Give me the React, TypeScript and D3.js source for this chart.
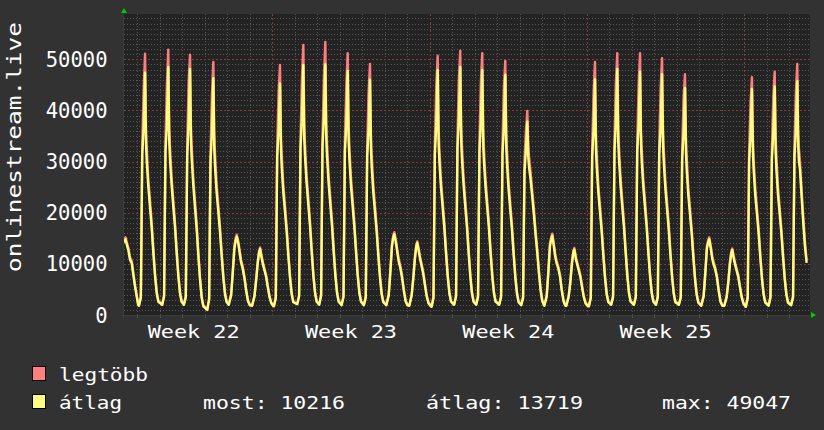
import React from "react";
import * as d3 from "d3";

// ---- labels ----
const yTickValues = [0, 10000, 20000, 30000, 40000, 50000];
const weekLabels = ["Week 22", "Week 23", "Week 24", "Week 25"];
const weekStartHours = [0, 168, 336, 504]; // Monday 00:00 of each labelled week
const majorWeekHours = [168, 336, 504, 672];
const titleText = "onlinestream.live";
const legendNames = ["legtöbb", "átlag"];
const statTexts = ["most: 10216", "átlag: 13719", "max: 49047"];

// ---- data: hours since Monday 00:00 of Week 22 ----
const hours = [
  // Mon W22 (holiday)
  9.6, 11.2, 12.8, 14.2, 16.0, 17.9, 19.6, 21.4, 23.2, 24.6,
  // Tue W22
  25.6, 27.6, 29.1, 30.6, 32.1, 33.1, 33.9, 35.6, 37.4, 39.2, 41.0, 42.8, 44.6, 46.3,
  // Wed W22
  50.4, 52.4, 53.9, 55.4, 56.9, 57.9, 58.7, 60.4, 62.2, 64.0, 65.8, 67.6, 69.4, 71.1,
  // Thu W22
  73.6, 75.6, 77.1, 78.6, 80.1, 81.1, 81.9, 83.6, 85.4, 87.2, 89.0, 90.8, 92.6, 94.3,
  // Fri W22
  98.5, 100.5, 102.0, 103.5, 105.0, 106.0, 106.8, 108.5, 110.3, 112.1, 113.9, 115.7, 117.5, 119.2,
  // Sat W22
  121.5, 124.0, 125.7, 127.5, 128.9, 130.0, 131.8, 133.2, 134.6, 136.4, 138.2, 140.0, 142.0, 144.0,
  // Sun W22
  146.4, 148.9, 150.6, 152.4, 153.8, 154.9, 156.7, 158.1, 159.5, 161.3, 163.1, 164.9, 166.9, 168.9,
  // Mon W23
  169.7, 171.7, 173.2, 174.7, 176.2, 177.2, 178.0, 179.7, 181.5, 183.3, 185.1, 186.9, 188.7, 190.4,
  // Tue W23
  194.6, 196.6, 198.1, 199.6, 201.1, 202.1, 202.9, 204.6, 206.4, 208.2, 210.0, 211.8, 213.6, 215.3,
  // Wed W23
  218.1, 220.1, 221.6, 223.1, 224.6, 225.6, 226.4, 228.1, 229.9, 231.7, 233.5, 235.3, 237.1, 238.8,
  // Thu W23
  242.0, 244.0, 245.5, 247.0, 248.5, 249.5, 250.3, 252.0, 253.8, 255.6, 257.4, 259.2, 261.0, 262.7,
  // Fri W23
  265.8, 267.8, 269.3, 270.8, 272.3, 273.3, 274.1, 275.8, 277.6, 279.4, 281.2, 283.0, 284.8, 286.5,
  // Sat W23
  289.8, 292.3, 294.0, 295.8, 297.2, 298.3, 300.1, 301.5, 302.9, 304.7, 306.5, 308.3, 310.3, 312.3,
  // Sun W23
  314.3, 316.8, 318.5, 320.3, 321.7, 322.8, 324.6, 326.0, 327.4, 329.2, 331.0, 332.8, 334.8, 336.8,
  // Mon W24
  338.1, 340.1, 341.6, 343.1, 344.6, 345.6, 346.4, 348.1, 349.9, 351.7, 353.5, 355.3, 357.1, 358.8,
  // Tue W24
  362.2, 364.2, 365.7, 367.2, 368.7, 369.7, 370.5, 372.2, 374.0, 375.8, 377.6, 379.4, 381.2, 382.9,
  // Wed W24
  385.7, 387.7, 389.2, 390.7, 392.2, 393.2, 394.0, 395.7, 397.5, 399.3, 401.1, 402.9, 404.7, 406.4,
  // Thu W24
  410.3, 412.3, 413.8, 415.3, 416.8, 417.8, 418.6, 420.3, 422.1, 423.9, 425.7, 427.5, 429.3, 431.0,
  // Fri W24
  433.8, 435.8, 437.3, 438.8, 440.3, 441.3, 442.1, 443.8, 445.6, 447.4, 449.2, 451.0, 452.8, 454.5, 456.3,
  // Sat W24
  458.5, 461.0, 462.7, 464.5, 465.9, 467.0, 468.8, 470.2, 471.6, 473.4, 475.2, 477.0, 479.0, 481.0,
  // Sun W24
  482.0, 484.5, 486.2, 488.0, 489.4, 490.5, 492.3, 493.7, 495.1, 496.9, 498.7, 500.5, 502.5, 504.5,
  // Mon W25
  506.1, 508.1, 509.6, 511.1, 512.6, 513.6, 514.4, 516.1, 517.9, 519.7, 521.5, 523.3, 525.1, 526.8,
  // Tue W25
  529.9, 531.9, 533.4, 534.9, 536.4, 537.4, 538.2, 539.9, 541.7, 543.5, 545.3, 547.1, 548.9, 550.6,
  // Wed W25
  554.2, 556.2, 557.7, 559.2, 560.7, 561.7, 562.5, 564.2, 566.0, 567.8, 569.6, 571.4, 573.2, 574.9,
  // Thu W25
  577.7, 579.7, 581.2, 582.7, 584.2, 585.2, 586.0, 587.7, 589.5, 591.3, 593.1, 594.9, 596.7, 598.4,
  // Fri W25
  602.2, 604.2, 605.7, 607.2, 608.7, 609.7, 610.5, 612.2, 614.0, 615.8, 617.6, 619.4, 621.2, 622.9,
  // Sat W25
  626.1, 628.6, 630.3, 632.1, 633.5, 634.6, 636.4, 637.8, 639.2, 641.0, 642.8, 644.6, 646.6, 648.6,
  // Sun W25
  650.7, 653.2, 654.9, 656.7, 658.1, 659.2, 661.0, 662.4, 663.8, 665.6, 667.4, 669.2, 671.2, 673.2,
  // Mon W26
  673.7, 675.7, 677.2, 678.7, 680.2, 681.2, 682.0, 683.7, 685.5, 687.3, 689.1, 690.9, 692.7, 694.4,
  // Tue W26
  698.0, 700.0, 701.5, 703.0, 704.5, 705.5, 706.3, 708.0, 709.8, 711.6, 713.4, 715.2, 717.0, 718.7,
  // Wed W26
  722.1, 724.1, 725.6, 727.1, 728.6, 729.6, 730.4, 731.5, 733.2, 735.0, 736.8, 738.6,
];

const avgUsers = [
  14200, 14800, 13600, 12700, 10800, 10100, 7800, 5500, 3600, 2100,
  1800, 3400, 31500, 36500, 47400, 33500, 30000, 25000, 21000, 17000, 12000, 7500, 4200, 2600,
  2000, 3600, 32000, 37000, 48500, 34000, 30500, 25500, 21300, 17300, 12200, 7600, 4200, 2600,
  2000, 3500, 31000, 37500, 48100, 34000, 30500, 25300, 21000, 16800, 11500, 6800, 3300, 1700,
  1000, 3000, 30000, 35500, 46300, 32500, 29000, 24000, 20200, 16300, 11500, 7200, 4000, 2500,
  2000, 3800, 8000, 13000, 14600, 15300, 13800, 12000, 10300, 9000, 7200, 4800, 2700, 1900,
  1800, 3600, 6500, 10100, 12100, 12900, 11000, 9800, 8800, 7500, 5500, 3600, 2300, 1800,
  1700, 3300, 31000, 36000, 45300, 32500, 29000, 24000, 20200, 16300, 11500, 7200, 4000, 2500,
  2100, 3600, 32500, 38000, 48900, 34500, 31000, 25800, 21600, 17500, 12400, 7700, 4300, 2600,
  2000, 3700, 33000, 38500, 49047, 34500, 31000, 25800, 21600, 17500, 12400, 7700, 4300, 2600,
  1900, 3500, 32000, 37000, 47700, 34000, 30500, 25300, 21200, 17200, 12200, 7600, 4200, 2600,
  1900, 3400, 31000, 36000, 46000, 32500, 29000, 24000, 20200, 16300, 11500, 7200, 4000, 2500,
  1900, 3800, 8200, 13500, 15100, 15800, 14000, 12200, 10500, 9200, 7300, 4900, 2700, 1900,
  1800, 3800, 7000, 11000, 13300, 14100, 12200, 10800, 9600, 8000, 5800, 3700, 2300, 1800,
  1600, 3300, 31500, 37000, 47900, 33500, 30000, 25000, 21000, 17000, 12000, 7500, 4200, 2600,
  2000, 3600, 32500, 38000, 48500, 34000, 30500, 25500, 21300, 17300, 12200, 7600, 4200, 2600,
  2000, 3500, 32000, 37500, 47900, 33500, 30000, 25000, 21000, 17000, 12000, 7500, 4200, 2600,
  2000, 3500, 31500, 36500, 47000, 33000, 29500, 24500, 20600, 16700, 11800, 7300, 4100, 2500,
  1900, 3300, 28000, 32000, 37800, 31000, 29000, 26500, 23000, 19500, 15500, 12000, 8000, 4800, 2700,
  1800, 3600, 8000, 13500, 14800, 15500, 13200, 11300, 10100, 9100, 7500, 4900, 2700, 1800,
  1800, 3600, 6200, 10100, 12100, 12800, 10800, 9800, 8800, 7500, 5500, 3600, 2300, 1800,
  1700, 3300, 31000, 36000, 46100, 32500, 29000, 24000, 20200, 16300, 11500, 7200, 4000, 2500,
  2000, 3500, 32000, 37500, 48100, 34000, 30500, 25300, 21200, 17200, 12200, 7600, 4200, 2600,
  2000, 3500, 32000, 37000, 47600, 33500, 30000, 25000, 21000, 17000, 12000, 7500, 4200, 2600,
  2000, 3500, 31500, 36500, 47100, 33500, 30000, 24800, 20800, 16800, 11800, 7400, 4100, 2500,
  2000, 3400, 30500, 35500, 44400, 32000, 28500, 23500, 19800, 16000, 11300, 7000, 3900, 2400,
  1800, 3600, 7800, 13000, 14200, 14800, 12800, 11000, 9900, 8900, 7300, 4800, 2600, 1800,
  1800, 3500, 6200, 10000, 12000, 12700, 10800, 9700, 8700, 7400, 5400, 3500, 2200, 1700,
  1600, 3300, 30000, 35000, 44200, 32000, 28500, 23500, 19800, 16000, 11300, 7000, 3900, 2400,
  1800, 3400, 30500, 35500, 44700, 32000, 28500, 23500, 19800, 16000, 11300, 7000, 3900, 2400,
  1900, 3400, 31000, 36000, 45700, 33000, 30000, 28400, 23200, 18000, 13400, 10216,
];

const maxUsers = [
  14500, 15200, 14100, 13200, 11300, 10600, 8200, 5900, 3900, 2300,
  1900, 3700, 33500, 44000, 51100, 36500, 32500, 26500, 22300, 18000, 12800, 8000, 4500, 2800,
  2100, 3900, 34000, 45000, 51900, 37000, 33000, 27000, 22600, 18300, 13000, 8100, 4500, 2800,
  2200, 3800, 33000, 45500, 50900, 37000, 33000, 26800, 22300, 17800, 12300, 7300, 3600, 1900,
  1100, 3300, 32000, 43000, 49500, 35500, 31500, 25500, 21500, 17300, 12300, 7700, 4300, 2700,
  2200, 4100, 8500, 13500, 15100, 15700, 14300, 12500, 10800, 9500, 7600, 5100, 2900, 2000,
  1900, 3800, 6900, 10500, 12500, 13200, 11500, 10200, 9200, 7900, 5800, 3800, 2400, 1900,
  1800, 3600, 33000, 43500, 48900, 35500, 31500, 25500, 21500, 17300, 12300, 7700, 4300, 2700,
  2200, 3900, 34500, 46000, 52800, 37500, 33500, 27300, 23000, 18500, 13200, 8200, 4600, 2800,
  2200, 4000, 35000, 46500, 53400, 37500, 33500, 27300, 23000, 18500, 13200, 8200, 4600, 2800,
  2100, 3800, 34000, 45000, 51200, 37000, 33000, 26800, 22500, 18200, 13000, 8100, 4500, 2800,
  2100, 3700, 33000, 43500, 49100, 35500, 31500, 25500, 21500, 17300, 12300, 7700, 4300, 2700,
  2100, 4100, 8700, 14000, 15600, 16200, 14500, 12700, 11000, 9700, 7700, 5200, 2900, 2000,
  1900, 4000, 7400, 11500, 13700, 14400, 12700, 11200, 10000, 8400, 6100, 3900, 2400, 1900,
  1700, 3600, 33500, 45000, 50700, 36500, 32500, 26500, 22300, 18000, 12800, 8000, 4500, 2800,
  2100, 3900, 34500, 46000, 51700, 37000, 33000, 27000, 22600, 18300, 13000, 8100, 4500, 2800,
  2100, 3800, 34000, 45500, 51200, 36500, 32500, 26500, 22300, 18000, 12800, 8000, 4500, 2800,
  2100, 3800, 33500, 44500, 49700, 36000, 32000, 26000, 21900, 17700, 12500, 7800, 4400, 2700,
  2000, 3600, 30000, 36000, 39900, 33500, 31000, 28000, 24300, 20600, 16400, 12700, 8500, 5100, 2900,
  1900, 3900, 8500, 14000, 15300, 15900, 13700, 11800, 10600, 9500, 7900, 5200, 2900, 1900,
  1900, 3800, 6600, 10500, 12500, 13100, 11300, 10200, 9200, 7900, 5800, 3800, 2400, 1900,
  1800, 3600, 33000, 43500, 49500, 35500, 31500, 25500, 21500, 17300, 12300, 7700, 4300, 2700,
  2100, 3800, 34000, 45500, 51200, 37000, 33000, 26800, 22500, 18200, 13000, 8100, 4500, 2800,
  2100, 3800, 34000, 45000, 51200, 36500, 32500, 26500, 22300, 18000, 12800, 8000, 4500, 2800,
  2100, 3800, 33500, 44500, 50200, 36500, 32500, 26300, 22100, 17800, 12600, 7900, 4400, 2700,
  2100, 3700, 32500, 42500, 47100, 35000, 31000, 25000, 21000, 17000, 12000, 7500, 4200, 2600,
  1900, 3900, 8300, 13500, 14700, 15200, 13300, 11500, 10400, 9300, 7700, 5100, 2800, 1900,
  1900, 3700, 6600, 10400, 12400, 13000, 11300, 10100, 9100, 7800, 5700, 3700, 2300, 1800,
  1700, 3600, 32000, 41500, 46500, 34500, 30500, 25000, 21000, 17000, 12000, 7500, 4200, 2600,
  1900, 3700, 32500, 42500, 47600, 35000, 31000, 25000, 21000, 17000, 12000, 7500, 4200, 2600,
  2100, 3700, 33000, 43500, 49100, 36000, 32500, 30000, 24700, 19200, 14400, 10700,
];

const FONT = "'DejaVu Sans Mono', monospace";
const BG = "#323232";
const PLOT_BG = "#232323";
const MINOR = "#575757";
const MAJOR = "#7e3e3e";
const MAX_COLOR = "#ff7f7f";
const AVG_COLOR = "#ffff7f";
const TEXT = "#ffffff";

export default function App() {
  const W = 824;
  const H = 430;
  const left = 124;
  const right = 810;
  const top = 14;
  const bottom = 315;

  const x = d3.scaleLinear().domain([9.6, 742.2]).range([left, right]);
  const y = d3.scaleLinear().domain([0, 58860]).range([bottom, top]);

  const minorY = d3.range(1000, 59000, 1000).filter((v) => v % 10000 !== 0);
  const majorY = d3.range(10000, 59000, 10000);
  const dayHours = d3.range(24, 742, 24).filter((h) => h % 168 !== 0);

  const maxPts: [number, number][] = hours.map((h, i) => [h, maxUsers[i]]);
  const avgPts: [number, number][] = hours.map((h, i) => [h, avgUsers[i]]);
  const line = d3
    .line<[number, number]>()
    .x((d) => x(d[0]))
    .y((d) => y(d[1]));

  const px = (v: number) => Math.round(v) + 0.5;

  return (
    <svg
      width={W}
      height={H}
      style={{ position: "absolute", left: 0, top: 0, display: "block" }}
      fontFamily={FONT}
    >
      <defs>
        <clipPath id="plotClip">
          <rect x={left} y={top} width={right - left} height={bottom - top + 1} />
        </clipPath>
      </defs>
      <rect x={0} y={0} width={W} height={H} fill={BG} />
      <rect x={left - 0.5} y={top} width={right - left + 0.5} height={bottom - top + 1} fill={PLOT_BG} />

      {/* minor grid */}
      <g stroke={MINOR} strokeWidth={1} strokeDasharray="1,2" shapeRendering="crispEdges">
        {minorY.map((v) => (
          <line key={"hy" + v} x1={left} x2={right} y1={px(y(v))} y2={px(y(v))} />
        ))}
        {dayHours.map((h) => (
          <line key={"vx" + h} x1={px(x(h))} x2={px(x(h))} y1={top} y2={bottom} />
        ))}
      </g>
      {/* major grid */}
      <g stroke={MAJOR} strokeWidth={1} strokeDasharray="2,2" shapeRendering="crispEdges">
        {majorY.map((v) => (
          <line key={"My" + v} x1={left} x2={right} y1={px(y(v))} y2={px(y(v))} />
        ))}
        {majorWeekHours.map((h) => (
          <line key={"Mx" + h} x1={px(x(h))} x2={px(x(h))} y1={top} y2={bottom + 3} />
        ))}
      </g>
      {/* small day ticks below axis */}
      <g stroke={MINOR} strokeWidth={1} shapeRendering="crispEdges">
        {dayHours.map((h) => (
          <line key={"t" + h} x1={px(x(h))} x2={px(x(h))} y1={bottom + 1} y2={bottom + 3} />
        ))}
      </g>
      {/* axes */}
      <g stroke="#3c3c3c" strokeWidth={1} shapeRendering="crispEdges">
        <line x1={left - 3} x2={right + 2} y1={bottom + 0.5} y2={bottom + 0.5} />
        <line x1={left - 0.5} x2={left - 0.5} y1={bottom + 3} y2={top - 3} />
      </g>
      <polygon points={`${left - 3},13 ${left + 3},13 ${left},8`} fill="#00c800" />
      <polygon points={`${right + 1},${bottom - 3} ${right + 1},${bottom + 3} ${right + 6},${bottom}`} fill="#00c800" />

      {/* data */}
      <g clipPath="url(#plotClip)" fill="none" strokeLinejoin="round">
        <path d={line(maxPts) || ""} stroke={MAX_COLOR} strokeWidth={2.4} />
        <path d={line(avgPts) || ""} stroke={AVG_COLOR} strokeWidth={2.4} />
      </g>

      {/* y labels */}
      {yTickValues.map((v) => (
        <text key={"yl" + v} x={107.5} y={y(v) + 7.5} textAnchor="end" fontSize={20.5} fill={TEXT}>
          {v}
        </text>
      ))}

      {/* week labels */}
      {weekLabels.map((lab, i) => (
        <text
          key={lab}
          x={x(weekStartHours[i] + 84) - 46}
          y={337.5}
          fontSize={18.3}
          fill={TEXT}
          textLength={92}
          lengthAdjust="spacingAndGlyphs"
        >
          {lab}
        </text>
      ))}

      {/* title */}
      <text
        transform="translate(20.5,22) rotate(-90)"
        x={-250}
        y={0}
        fontSize={19.5}
        fill={TEXT}
        textLength={250}
        lengthAdjust="spacingAndGlyphs"
      >
        {titleText}
      </text>

      {/* legend */}
      <rect x={32.5} y={366.5} width={13} height={14} fill={MAX_COLOR} stroke="#000" />
      <rect x={32.5} y={394.5} width={13} height={14} fill={AVG_COLOR} stroke="#000" />
      <text x={59} y={381} fontSize={18.5} fill={TEXT} textLength={89} lengthAdjust="spacingAndGlyphs">
        {legendNames[0]}
      </text>
      <text x={59} y={408.5} fontSize={18.5} fill={TEXT} textLength={63} lengthAdjust="spacingAndGlyphs">
        {legendNames[1]}
      </text>
      <text x={203} y={408.5} fontSize={18.5} fill={TEXT} textLength={142} lengthAdjust="spacingAndGlyphs">
        {statTexts[0]}
      </text>
      <text x={426} y={408.5} fontSize={18.5} fill={TEXT} textLength={157} lengthAdjust="spacingAndGlyphs">
        {statTexts[1]}
      </text>
      <text x={662} y={408.5} fontSize={18.5} fill={TEXT} textLength={129} lengthAdjust="spacingAndGlyphs">
        {statTexts[2]}
      </text>
    </svg>
  );
}
